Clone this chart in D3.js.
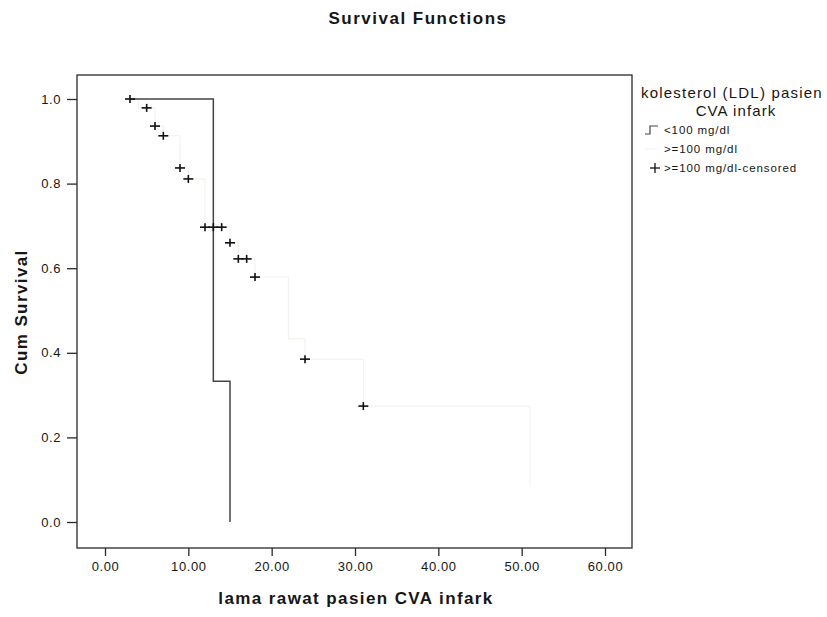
<!DOCTYPE html>
<html>
<head>
<meta charset="utf-8">
<script src="https://cdn.jsdelivr.net/npm/d3@7"></script>
<style>
  body { margin: 0; background: #fff; }
  text { font-family: "Liberation Sans", Arial, sans-serif; fill: #161616; }
</style>
</head>
<body>
<svg id="chart" width="827" height="617"></svg>
<script>
// data
var xTicks = [0, 10, 20, 30, 40, 50, 60];
var yTicks = [0, 0.2, 0.4, 0.6, 0.8, 1.0];

// <100 mg/dl, step curve
var ltTimes = [3, 13, 15];
var ltSurv = [1.0, 0.333, 0.0];

// >=100 mg/dl, step curve (very faint in the scan)
var geTimes = [3, 4, 6, 7, 9, 10, 12, 15, 16, 18, 22, 24, 31, 51];
var geSurv = [1.0, 0.979, 0.936, 0.913, 0.837, 0.811, 0.697, 0.66, 0.622, 0.579, 0.433, 0.385, 0.274, 0.083];

// >=100 mg/dl censored marks
var cenTimes = [3, 5, 6, 7, 9, 10, 12, 13, 14, 15, 16, 17, 18, 24, 31];
var cenSurv = [1.0, 0.979, 0.936, 0.913, 0.837, 0.811, 0.697, 0.697, 0.697, 0.66, 0.622, 0.622, 0.579, 0.385, 0.274];

var legendLabels = ["<100 mg/dl", ">=100 mg/dl", ">=100 mg/dl-censored"];

var svg = d3.select("#chart");

var box = {left: 77, right: 632, top: 75, bottom: 548};

var x = d3.scaleLinear().domain([0, 60]).range([105, 605]);
var y = d3.scaleLinear().domain([0, 1]).range([522, 99]);

// title
svg.append("text")
  .attr("x", 418).attr("y", 24)
  .attr("text-anchor", "middle")
  .style("font-size", "17px").style("font-weight", "bold")
  .style("letter-spacing", "1.5px")
  .text("Survival Functions");

// frame
svg.append("rect")
  .attr("x", box.left).attr("y", box.top)
  .attr("width", box.right - box.left).attr("height", box.bottom - box.top)
  .attr("fill", "none").attr("stroke", "#2a2a2a").attr("stroke-width", 1.3);

// axes
var xAxis = svg.append("g")
  .attr("transform", "translate(0," + box.bottom + ")")
  .call(d3.axisBottom(x).tickValues(xTicks).tickFormat(d3.format(".2f")).tickSize(8).tickPadding(6));
var yAxis = svg.append("g")
  .attr("transform", "translate(" + box.left + ",0)")
  .call(d3.axisLeft(y).tickValues(yTicks).tickFormat(d3.format(".1f")).tickSize(10).tickPadding(6));

[xAxis, yAxis].forEach(function(a){
  a.select(".domain").remove();
  a.selectAll(".tick line").attr("stroke", "#2a2a2a").attr("stroke-width", 1.3);
  a.selectAll(".tick text")
    .style("font-family", "\"Liberation Sans\", Arial, sans-serif")
    .style("font-size", "13px").style("letter-spacing", "0.6px")
    .attr("fill", "#1c1c1c");
});

// axis titles
svg.append("text")
  .attr("transform", "translate(27,312) rotate(-90)")
  .attr("text-anchor", "middle")
  .style("font-size", "17px").style("font-weight", "bold")
  .style("letter-spacing", "1.4px")
  .text("Cum Survival");

svg.append("text")
  .attr("x", 356).attr("y", 604)
  .attr("text-anchor", "middle")
  .style("font-size", "17px").style("font-weight", "bold")
  .style("letter-spacing", "1.4px")
  .text("lama rawat pasien CVA infark");

var step = d3.line()
  .x(function(d){ return x(d[0]); })
  .y(function(d){ return y(d[1]); })
  .curve(d3.curveStepAfter);

// >=100 line, nearly invisible in the scan
svg.append("path")
  .datum(d3.zip(geTimes, geSurv))
  .attr("d", step)
  .attr("fill", "none")
  .attr("stroke", "#f0f0e8")
  .attr("stroke-width", 1);

// <100 line
svg.append("path")
  .datum(d3.zip(ltTimes, ltSurv))
  .attr("d", step)
  .attr("fill", "none")
  .attr("stroke", "#444")
  .attr("stroke-width", 1.5);

// censored marks
var cross = svg.append("g").selectAll("g")
  .data(d3.zip(cenTimes, cenSurv))
  .join("g")
  .attr("transform", function(d){ return "translate(" + x(d[0]) + "," + y(d[1]) + ")"; });
cross.append("line").attr("x1", -5).attr("x2", 5).attr("y1", 0).attr("y2", 0)
  .attr("stroke", "#111").attr("stroke-width", 1.6);
cross.append("line").attr("x1", 0).attr("x2", 0).attr("y1", -4).attr("y2", 4)
  .attr("stroke", "#111").attr("stroke-width", 1.6);

// legend
var lg = svg.append("g");
lg.append("text")
  .attr("x", 641).attr("y", 98)
  .style("font-size", "15px").style("letter-spacing", "1.2px")
  .text("kolesterol (LDL) pasien");
lg.append("text")
  .attr("x", 736).attr("y", 116)
  .attr("text-anchor", "middle")
  .style("font-size", "15px").style("letter-spacing", "1.1px")
  .text("CVA infark");

var itemY = [130, 149, 168];
lg.selectAll("text.item")
  .data(legendLabels)
  .join("text")
  .attr("class", "item")
  .attr("x", 664)
  .attr("y", function(d, i){ return itemY[i] + 4; })
  .style("font-size", "11.5px").style("letter-spacing", "0.9px")
  .text(function(d){ return d; });

// <100 symbol
lg.append("path")
  .attr("d", "M645," + (itemY[0] + 4) + "H650V" + (itemY[0] - 4) + "H658")
  .attr("fill", "none").attr("stroke", "#444").attr("stroke-width", 1.2);
// >=100 symbol (faint)
lg.append("line")
  .attr("x1", 645).attr("x2", 658).attr("y1", itemY[1]).attr("y2", itemY[1])
  .attr("stroke", "#f0f0e8").attr("stroke-width", 1);
// censored symbol
lg.append("line").attr("x1", 650).attr("x2", 660).attr("y1", itemY[2]).attr("y2", itemY[2])
  .attr("stroke", "#111").attr("stroke-width", 1.3);
lg.append("line").attr("x1", 655).attr("x2", 655).attr("y1", itemY[2] - 5).attr("y2", itemY[2] + 5)
  .attr("stroke", "#111").attr("stroke-width", 1.3);
</script>
</body>
</html>
